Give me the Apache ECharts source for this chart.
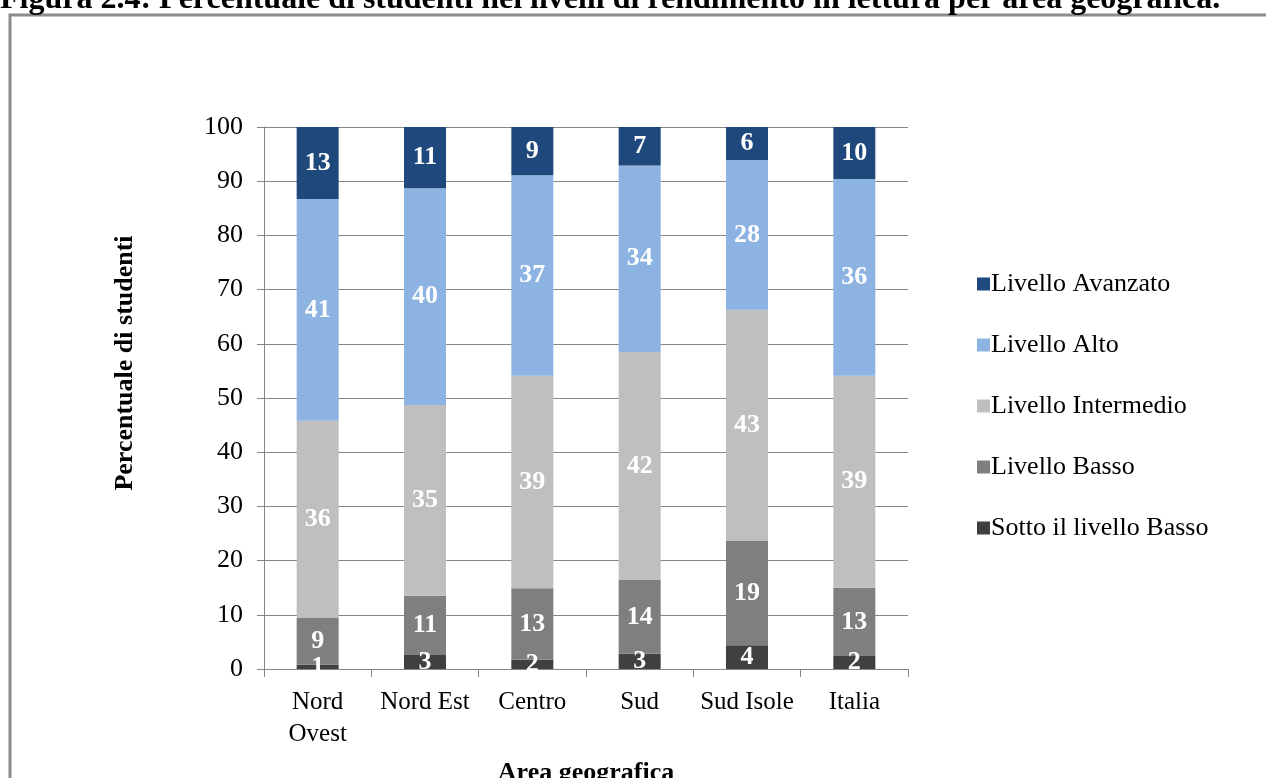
<!DOCTYPE html>
<html>
<head>
<meta charset="utf-8">
<script src="https://cdn.jsdelivr.net/npm/echarts@6/dist/echarts.min.js"></script>
<style>
html, body { margin: 0; padding: 0; background: #fff; }
#main { width: 1266px; height: 778px; }
</style>
</head>
<body>
<div id="main"></div>
<script>
// aree geografiche
var aree = ['Nord\nOvest', 'Nord Est', 'Centro', 'Sud', 'Sud Isole', 'Italia'];

// percentuali per livello
var sottoBasso = [0.8, 2.6, 1.7, 2.8, 4.4, 2.4];
var livelloBasso = [8.6, 10.9, 13.2, 13.6, 19.3, 12.6];
var livelloIntermedio = [36.4, 35.2, 39.2, 42.1, 42.6, 39.1];
var livelloAlto = [40.9, 40.0, 37.0, 34.4, 27.6, 36.3];
var livelloAvanzato = [13.3, 11.3, 8.9, 7.1, 6.1, 9.6];

var nomiLivelli = ['Sotto il livello Basso', 'Livello Basso', 'Livello Intermedio', 'Livello Alto', 'Livello Avanzato'];
var colori = ['#404040', '#7f7f7f', '#bfbfbf', '#8db3e2', '#1f497d'];
var valori = [sottoBasso, livelloBasso, livelloIntermedio, livelloAlto, livelloAvanzato];

var serif = '"Liberation Serif", "DejaVu Serif", serif';

var series = [];
for (var i = 0; i < valori.length; i++) {
    series.push({
        name: nomiLivelli[i],
        type: 'bar',
        stack: 'tot',
        barWidth: 42,
        data: valori[i],
        itemStyle: { color: colori[i] },
        label: {
            show: true,
            position: 'inside',
            color: '#fff',
            fontFamily: serif,
            fontWeight: 'bold',
            fontSize: 26,
            formatter: function (p) { return Math.round(p.value); }
        }
    });
}

var myChart = echarts.init(document.getElementById('main'));
var option = {
    animation: false,
    backgroundColor: '#fff',
    graphic: [
        {
            type: 'rect',
            shape: { x: 10, y: 15, width: 1300, height: 800 },
            style: { fill: 'none', stroke: '#8c8c8c', lineWidth: 3 },
            silent: true
        },
        {
            type: 'text',
            left: 0,
            top: -16,
            style: {
                text: 'Figura 2.4: Percentuale di studenti nei livelli di rendimento in lettura per area geografica.',
                font: 'bold 32px ' + serif,
                fill: '#000'
            }
        },
        {
            type: 'text',
            x: 125,
            y: 363,
            rotation: Math.PI / 2,
            style: {
                text: 'Percentuale di studenti',
                font: 'bold 26px ' + serif,
                fill: '#000',
                align: 'center',
                verticalAlign: 'middle'
            }
        }
    ],
    legend: {
        orient: 'vertical',
        left: 972,
        top: 266,
        itemGap: 35,
        itemWidth: 13,
        itemHeight: 13,
        icon: 'rect',
        data: nomiLivelli.slice().reverse(),
        textStyle: { fontFamily: serif, fontSize: 26, color: '#000', lineHeight: 26, padding: [0, 0, 0, -4] }
    },
    grid: { left: 264, right: 358, top: 127, bottom: 109, outerBoundsMode: 'none' },
    xAxis: {
        type: 'category',
        data: aree,
        name: 'Area geografica',
        nameLocation: 'middle',
        nameGap: 91,
        nameTextStyle: { fontFamily: serif, fontWeight: 'bold', fontSize: 26, color: '#000' },
        axisLine: { lineStyle: { color: '#868686', width: 1 } },
        axisTick: { show: true, length: 8, lineStyle: { color: '#868686' } },
        axisLabel: { interval: 0, hideOverlap: false, fontFamily: serif, fontSize: 25, color: '#000', margin: 17, lineHeight: 32 }
    },
    yAxis: {
        type: 'value',
        min: 0,
        max: 100,
        interval: 10,
        axisLine: { show: true, lineStyle: { color: '#868686' } },
        axisTick: { show: true, length: 7, lineStyle: { color: '#868686' } },
        splitLine: { lineStyle: { color: '#868686' } },
        axisLabel: { fontFamily: serif, fontSize: 26, color: '#000', margin: 21 }
    },
    series: series
};

myChart.setOption(option);
</script>
</body>
</html>
